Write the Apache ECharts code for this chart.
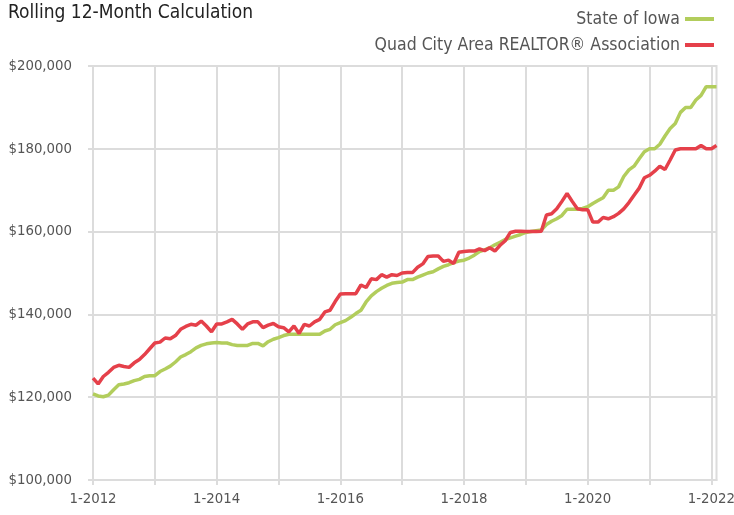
<!DOCTYPE html>
<html>
<head>
<meta charset="utf-8">
<script src="https://cdn.jsdelivr.net/npm/echarts@6/dist/echarts.min.js"></script>
<style>
html,body{margin:0;padding:0;background:#fff;}
#chart{width:734px;height:515px;}
</style>
</head>
<body>
<div id="chart"></div>
<script>
// Monthly categories Jan 2012 .. Feb 2022
var startYear = 2012;
var monthCount = 122;
var categories = [];
for (var i = 0; i < monthCount; i++) {
  categories.push(((i % 12) + 1) + '-' + (startYear + Math.floor(i / 12)));
}

var seriesNames = ['State of Iowa', 'Quad City Area REALTOR® Association'];

var iowa = [
  120800,120300,120100,120500,121800,123000,123200,123500,124000,124300,125000,125200,
  125200,126200,126800,127500,128500,129700,130300,131000,131900,132500,132900,133100,
  133200,133100,133100,132700,132500,132500,132500,133000,133000,132400,133400,134000,
  134400,134900,135200,135200,135200,135200,135200,135200,135200,136000,136400,137500,
  138000,138500,139300,140200,141000,143000,144500,145500,146300,147000,147500,147700,
  147800,148400,148400,149000,149500,150000,150300,151000,151600,152000,152500,152900,
  153100,153600,154300,155200,155600,156100,156800,157400,158100,158500,158900,159300,
  159800,160000,160200,160400,161700,162500,163100,163900,165400,165400,165400,165600,
  166000,166800,167500,168200,170000,170000,170800,173300,174900,175800,177600,179300,
  180000,180000,181100,183100,184900,186100,188800,190000,190000,191800,192900,195000,
  195000,195000
];

var quadCity = [
  124600,123200,125000,126000,127200,127700,127400,127200,128300,129100,130300,131700,
  133100,133300,134300,134100,134900,136400,137100,137600,137400,138400,137200,135800,
  137700,137700,138200,138800,137700,136400,137700,138200,138200,136800,137400,137800,
  137000,136800,135800,137200,135400,137600,137200,138200,138800,140600,141000,143100,
  144900,145000,145000,145000,147100,146500,148600,148400,149600,149000,149600,149400,
  150000,150100,150100,151400,152200,154000,154100,154100,152800,153100,152300,155000,
  155200,155300,155300,155800,155400,156100,155300,156700,157800,159800,160100,160100,
  160000,160000,160000,160100,164000,164300,165500,167300,169200,167300,165500,165300,
  165300,162300,162300,163400,163100,163600,164400,165500,167000,168800,170500,173000,
  173600,174600,175800,175000,177300,179700,180000,180000,180000,180000,180800,180000,
  180000,180800
];

var yMin = 100000, yMax = 200000, yStep = 20000;

var FONT = '"DejaVu Sans Condensed","Roboto",sans-serif';
var GRID = '#dcdcdc';

var chart = echarts.init(document.getElementById('chart'), null, {renderer: 'canvas'});
chart.setOption({
  animation: false,
  backgroundColor: '#fff',
  title: {
    text: 'Rolling 12-Month Calculation',
    left: 3, top: -1,
    textStyle: {fontFamily: FONT, fontSize: 19, fontWeight: 'normal', color: '#222'}
  },
  legend: {
    orient: 'vertical',
    right: 15, top: 5,
    align: 'right',
    icon: 'rect',
    itemWidth: 29, itemHeight: 4,
    itemGap: 8,
    textStyle: {fontFamily: FONT, fontSize: 17.5, color: '#555'},
    data: seriesNames
  },
  grid: {
    left: 93, right: 17.5, top: 66, bottom: 35,
    show: true, borderColor: GRID, borderWidth: 2,
    containLabel: false,
    outerBoundsMode: 'none'
  },
  xAxis: {
    type: 'category',
    data: categories,
    boundaryGap: false,
    axisLine: {lineStyle: {color: GRID, width: 2}},
    axisTick: {show: true, length: 5, interval: function (i) { return i % 12 === 0; }, lineStyle: {color: GRID, width: 2}},
    splitLine: {show: true, interval: function (i) { return i % 12 === 0; }, lineStyle: {color: GRID, width: 2}},
    axisLabel: {
      interval: function (i) { return i % 24 === 0; },
      fontFamily: FONT, fontSize: 14.8, color: '#555', margin: 12,
      hideOverlap: false
    }
  },
  yAxis: {
    type: 'value',
    min: yMin, max: yMax, interval: yStep,
    axisLine: {show: false},
    axisTick: {show: true, length: 5, lineStyle: {color: GRID, width: 2}},
    splitLine: {lineStyle: {color: GRID, width: 2}},
    axisLabel: {
      fontFamily: FONT, fontSize: 14.8, color: '#555', margin: 21,
      formatter: function (v) { return '$' + v.toLocaleString('en-US'); }
    }
  },
  series: [
    {name: seriesNames[0], type: 'line', data: iowa, showSymbol: false, symbol: 'none',
     lineStyle: {color: '#b2cd5c', width: 3.5}, itemStyle: {color: '#b2cd5c'}, z: 2},
    {name: seriesNames[1], type: 'line', data: quadCity, showSymbol: false, symbol: 'none',
     lineStyle: {color: '#e5404a', width: 3.5}, itemStyle: {color: '#e5404a'}, z: 3}
  ]
});
</script>
</body>
</html>
